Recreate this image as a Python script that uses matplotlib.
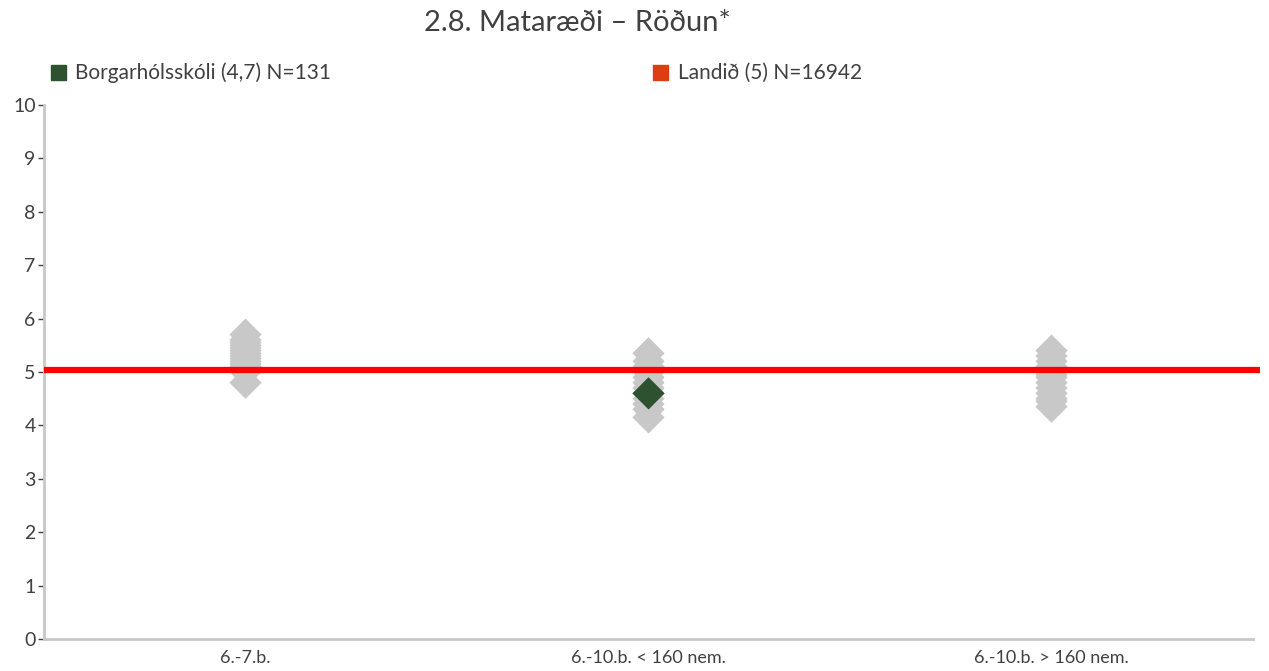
import matplotlib.pyplot as plt
from matplotlib.patches import Rectangle

plt.rcParams['font.family'] = ['Lato', 'DejaVu Sans']

# --- data ---
categories = ['6.-7.b.', '6.-10.b. < 160 nem.', '6.-10.b. > 160 nem.']
# other schools' scores per category (grey diamonds)
schools_cat0 = [4.8, 5.0, 5.1, 5.15, 5.2, 5.25, 5.3, 5.35, 5.4, 5.45, 5.5, 5.55, 5.6, 5.7]
schools_cat1 = [4.15, 4.3, 4.4, 4.5, 4.6, 4.7, 4.8, 4.9, 5.0, 5.05, 5.1, 5.2, 5.35]
schools_cat2 = [4.35, 4.45, 4.5, 4.6, 4.7, 4.8, 4.9, 4.95, 5.0, 5.05, 5.1, 5.2, 5.3, 5.4]
school_value = 4.6        # Borgarhólsskóli, in category 1
school_cat = 1
national_value = 5.03     # Landið
school_label = 'Borgarhólsskóli (4,7) N=131'
national_label = 'Landið (5) N=16942'
title = '2.8. Mataræði – Röðun*'

GREEN = '#2e5230'
RED = '#ff0000'
GREY = '#c8c8c8'
TXT = '#404040'

fig = plt.figure(figsize=(12.69, 6.71), dpi=100)
ax = fig.add_axes([0.0347, 0.0477, 0.9527, 0.7958])

for i, vals in enumerate([schools_cat0, schools_cat1, schools_cat2]):
    ax.scatter([i] * len(vals), vals, marker='D', s=270, color=GREY,
               edgecolors='none', zorder=2)

# national line runs a little past the end of the axis
ax.plot([-0.5, 2.518], [national_value] * 2, color=RED, lw=4.5,
        zorder=3, clip_on=False, solid_capstyle='butt')
ax.scatter([school_cat], [school_value], marker='D', s=270, color=GREEN,
           edgecolors='none', zorder=4)

ax.set_xlim(-0.5, 2.5)
ax.set_ylim(0, 10)
ax.set_yticks(range(0, 11))
ax.set_xticks(range(len(categories)))
ax.set_xticklabels(categories)
ax.tick_params(axis='y', length=4, width=1, color=TXT, labelcolor=TXT,
               labelsize=14, pad=2)
ax.tick_params(axis='x', length=0, labelcolor=TXT, labelsize=13, pad=8)
for side in ['top', 'right']:
    ax.spines[side].set_visible(False)
for side in ['left', 'bottom']:
    ax.spines[side].set_color(GREY)
    ax.spines[side].set_linewidth(2)

fig.text(0.455, 0.965, title, ha='center', va='center', fontsize=21, color=TXT)

# legend drawn by hand to match the spacing
fig.add_artist(Rectangle((0.0402, 0.881), 0.0118, 0.0224,
                         transform=fig.transFigure, color=GREEN))
fig.text(0.059, 0.892, school_label, ha='left', va='center', fontsize=15, color=TXT)
fig.add_artist(Rectangle((0.5147, 0.881), 0.0118, 0.0224,
                         transform=fig.transFigure, color='#e03c14'))
fig.text(0.534, 0.892, national_label, ha='left', va='center', fontsize=15, color=TXT)

fig.savefig('out.png', dpi=100)
